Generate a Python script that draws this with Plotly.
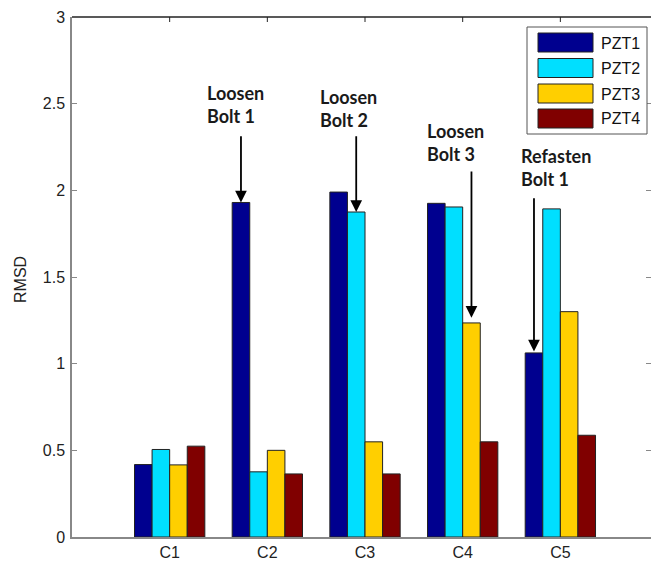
import plotly.graph_objects as go

# ---------------- data ----------------
categories = ["C1", "C2", "C3", "C4", "C5"]
series_names = ["PZT1", "PZT2", "PZT3", "PZT4"]
pzt1 = [0.418, 1.930, 1.990, 1.925, 1.062]
pzt2 = [0.505, 0.376, 1.875, 1.904, 1.893]
pzt3 = [0.416, 0.500, 0.549, 1.235, 1.300]
pzt4 = [0.524, 0.364, 0.364, 0.549, 0.587]
series_values = [pzt1, pzt2, pzt3, pzt4]
colors = ["#00008F", "#00DFFF", "#FFCF00", "#800000"]
y_ticks = [0, 0.5, 1, 1.5, 2, 2.5, 3]
y_tick_labels = ["0", "0.5", "1", "1.5", "2", "2.5", "3"]

event_labels = ["Loosen<br>Bolt 1", "Loosen<br>Bolt 2", "Loosen<br>Bolt 3", "Refasten<br>Bolt 1"]
event_cat = [1, 2, 3, 4]          # category index the arrow points to
event_series = [0, 1, 2, 0]       # series index the arrow points to

W, H = 651, 563
L, R, T, B = 72, 0, 17, 26
pw, ph = W - L - R, H - T - B
AX_FONT = "Arial"


def px2paper(x, y):
    return (x - L) / pw, (H - B - y) / ph


fig = go.Figure()
for name, vals, col in zip(series_names, series_values, colors):
    fig.add_trace(go.Bar(
        x=categories, y=vals, name=name,
        marker=dict(color=col, line=dict(color="#222222", width=1)),
        showlegend=False,
    ))

# group geometry (bargap 0.28 -> group width 0.72, 4 bars)
bar_w = 0.72 / 4
offsets = [(-1.5 + i) * bar_w for i in range(4)]

# arrows + text
tail_y = [2.32, 2.32, 2.118, 1.963]
text_pos = [(-0.323, 2.498), (-0.164, 2.47), (-0.072, 2.277), (-0.041, 2.13)]
tip_pad = [0.0, 0.0, 0.03, 0.008]
for lab, ci, si, ty, (tx_off, tyc), pad in zip(event_labels, event_cat, event_series,
                                              tail_y, text_pos, tip_pad):
    xb = ci + offsets[si]
    yb = series_values[si][ci] + pad
    fig.add_annotation(x=xb, y=yb, ax=xb, ay=ty, xref="x", yref="y",
                       axref="x", ayref="y", text="", showarrow=True,
                       arrowhead=2, arrowsize=1.3, arrowwidth=1.8,
                       arrowcolor="#000000")
    fig.add_annotation(x=ci + tx_off, y=tyc, xref="x", yref="y", text=lab,
                       showarrow=False, xanchor="center", yanchor="middle",
                       align="left",
                       font=dict(family="Lato", size=18, color="#1a1a1a", weight="bold"))

# custom legend (MATLAB style wide swatches)
shapes = []
bx0, by0 = px2paper(527, 27)
bx1, by1 = px2paper(647, 134)
shapes.append(dict(type="rect", xref="paper", yref="paper", x0=bx0, y0=by1,
                   x1=bx1, y1=by0, line=dict(color="#555555", width=1),
                   fillcolor="white", layer="above"))
entry_tops = [33, 58.5, 84, 109]
for name, col, top in zip(series_names, colors, entry_tops):
    sx0, sy0 = px2paper(538, top)
    sx1, sy1 = px2paper(593, top + 19)
    shapes.append(dict(type="rect", xref="paper", yref="paper", x0=sx0, y0=sy1,
                       x1=sx1, y1=sy0, line=dict(color="#222222", width=1),
                       fillcolor=col, layer="above"))
    tx, tyy = px2paper(599, top + 10)
    fig.add_annotation(x=tx, y=tyy, xref="paper", yref="paper", text=name,
                       showarrow=False, xanchor="left", yanchor="middle",
                       font=dict(family=AX_FONT, size=16, color="#111111"))

# top border line
shapes.append(dict(type="line", xref="paper", yref="paper", x0=0, x1=1, y0=1, y1=1,
                   line=dict(color="#222222", width=1.3)))
# tick marks at top (category positions)
for i in range(len(categories)):
    shapes.append(dict(type="line", xref="x", yref="paper", x0=i, x1=i,
                       y0=1, y1=1 - 5 / ph, line=dict(color="#222222", width=1)))

# y axis title
ax_, ay_ = px2paper(20, 280)
fig.add_annotation(x=ax_, y=ay_, xref="paper", yref="paper", text="RMSD",
                   textangle=-90, showarrow=False, xanchor="center", yanchor="middle",
                   font=dict(family=AX_FONT, size=16, color="#222222"))

fig.update_layout(
    width=W, height=H,
    margin=dict(l=L, r=R, t=T, b=B, pad=0),
    paper_bgcolor="white", plot_bgcolor="white",
    barmode="group", bargap=0.28, bargroupgap=0,
    shapes=shapes,
    font=dict(family=AX_FONT, size=16, color="#222222"),
    xaxis=dict(
        categoryorder="array", categoryarray=categories,
        range=[-1, (W - L - 1.5) / 97.5 - 1 + 0.005],
        showline=True, linecolor="#888888", linewidth=1.5,
        ticks="", showgrid=False, zeroline=False,
        tickfont=dict(family=AX_FONT, size=16, color="#222222"),
    ),
    yaxis=dict(
        range=[0, 3], tickvals=y_ticks, ticktext=y_tick_labels,
        showline=True, linecolor="#888888", linewidth=1.5,
        ticks="inside", ticklen=5, tickcolor="#888888", tickwidth=1,
        showgrid=False, zeroline=False, ticklabelstandoff=2,
        tickfont=dict(family=AX_FONT, size=16, color="#222222"),
    ),
    yaxis2=dict(
        overlaying="y", side="right", range=[0, 3], tickvals=y_ticks,
        showticklabels=False, ticks="inside", ticklen=5, tickcolor="#888888",
        showline=False, showgrid=False, zeroline=False,
    ),
)
# dummy trace to activate yaxis2
fig.add_trace(go.Scatter(x=[categories[0]], y=[0], yaxis="y2", mode="markers",
                         marker=dict(opacity=0), showlegend=False, hoverinfo="skip"))

fig.write_html(
    "out.html",
    config={"displayModeBar": False},
    post_script="document.body.style.margin='0';document.body.style.overflow='hidden';",
)
